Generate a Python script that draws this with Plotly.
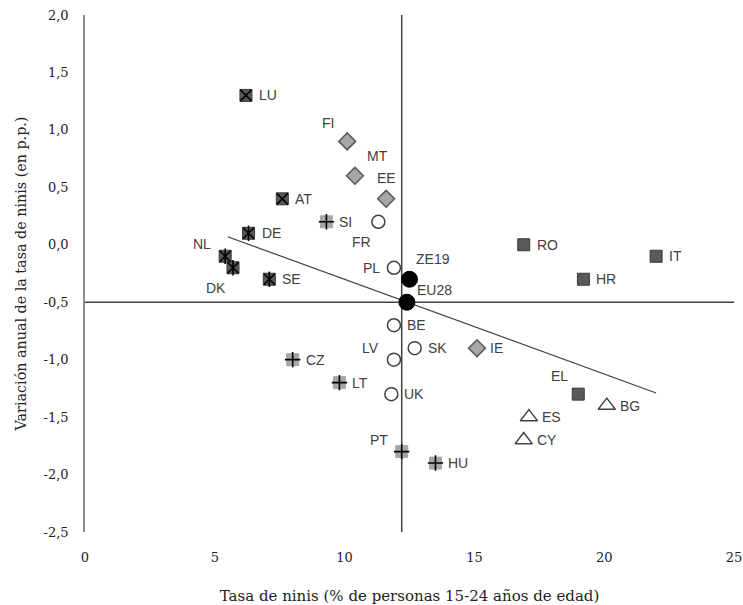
import plotly.graph_objects as go

# ---- data ----
countries = ["LU", "FI", "MT", "EE", "AT", "SI", "FR", "DE", "NL", "DK", "SE", "PL",
             "ZE19", "EU28", "RO", "IT", "HR", "BE", "SK", "IE", "LV", "UK", "CZ", "LT",
             "EL", "BG", "ES", "CY", "PT", "HU"]
neet_rate = [6.2, 10.1, 10.4, 11.6, 7.6, 9.3, 11.3, 6.3, 5.4, 5.7, 7.1, 11.9,
             12.5, 12.4, 16.9, 22.0, 19.2, 11.9, 12.7, 15.1, 11.9, 11.8, 8.0, 9.8,
             19.0, 20.1, 17.1, 16.9, 12.2, 13.5]
annual_change = [1.3, 0.9, 0.6, 0.4, 0.4, 0.2, 0.2, 0.1, -0.1, -0.2, -0.3, -0.2,
                 -0.3, -0.5, 0.0, -0.1, -0.3, -0.7, -0.9, -0.9, -1.0, -1.3, -1.0, -1.2,
                 -1.3, -1.4, -1.5, -1.7, -1.8, -1.9]
group = ["sqx", "dia", "dia", "dia", "sqx", "plus", "circ", "ast", "ast", "ast", "ast", "circ",
         "agg", "agg", "sq", "sq", "sq", "circ", "circ", "dia", "circ", "circ", "plus", "plus",
         "sq", "tri", "tri", "tri", "plus", "plus"]
label_pos = ["r", "tl", "tr", "t", "r", "r", "bl", "r", "ul", "bl", "r", "l",
             "tr", "ur", "r", "r", "r", "r", "r", "r", "ul", "r", "r", "r",
             "tl", "r", "r", "r", "ul", "r"]

cross_x = 12.2
cross_y = -0.5
trend_x = [5.5, 22.0]
trend_y = [0.07, -1.29]

x_ticks = [0, 5, 10, 15, 20, 25]
y_ticks = [2.0, 1.5, 1.0, 0.5, 0.0, -0.5, -1.0, -1.5, -2.0, -2.5]

# ---- styles ----
styles = {
    "sqx":  dict(symbol="square", size=12, color="#595959", line=dict(color="#3a3a3a", width=1)),
    "ast":  dict(symbol="square", size=12, color="#595959", line=dict(color="#3a3a3a", width=1)),
    "sq":   dict(symbol="square", size=12, color="#595959", line=dict(color="#3a3a3a", width=1)),
    "plus": dict(symbol="square", size=12, color="#a6a6a6", line=dict(color="#a6a6a6", width=1)),
    "dia":  dict(symbol="diamond", size=13, color="#a6a6a6", line=dict(color="#595959", width=1.5)),
    "circ": dict(symbol="circle", size=13, color="white", line=dict(color="#404040", width=1.5)),
    "tri":  dict(symbol="triangle-up", size=15, color="white", line=dict(color="#404040", width=1.5)),
    "agg":  dict(symbol="circle", size=16, color="black", line=dict(color="black", width=1)),
}
overlays = {
    "sqx": ["x-thin"],
    "ast": ["x-thin", "line-ns"],
    "plus": ["cross-thin"],
}
# label placement: (xanchor, xshift, yshift)
label_shift = {
    "r":  ("left", 11, 0),
    "l":  ("right", -12, 0),
    "tl": ("center", -19, 18),
    "ul": ("center", -23, 12),
    "tr": ("center", 23, 20),
    "ur": ("center", 28, 12),
    "t":  ("center", 0, 21),
    "bl": ("center", -17, -20),
}

fig = go.Figure()

# reference cross lines
fig.add_trace(go.Scatter(x=[cross_x, cross_x], y=[-2.5, 2.0], mode="lines",
                         line=dict(color="#404040", width=1.5), hoverinfo="skip", showlegend=False))
fig.add_trace(go.Scatter(x=[0, 25], y=[cross_y, cross_y], mode="lines",
                         line=dict(color="#404040", width=1.5), hoverinfo="skip", showlegend=False))
# trend line
fig.add_trace(go.Scatter(x=trend_x, y=trend_y, mode="lines",
                         line=dict(color="#404040", width=1.2), hoverinfo="skip", showlegend=False))

for g, st in styles.items():
    idx = [i for i, gg in enumerate(group) if gg == g]
    xs = [neet_rate[i] for i in idx]
    ys = [annual_change[i] for i in idx]
    fig.add_trace(go.Scatter(
        x=xs, y=ys, mode="markers", text=[countries[i] for i in idx],
        marker=dict(symbol=st["symbol"], size=st["size"], color=st["color"], line=st["line"]),
        showlegend=False, cliponaxis=False))
    for sym in overlays.get(g, []):
        fig.add_trace(go.Scatter(
            x=xs, y=ys, mode="markers",
            marker=dict(symbol=sym, size=11, color="black",
                        line=dict(color="black", width=1.6)),
            hoverinfo="skip", showlegend=False, cliponaxis=False))

sans = "Liberation Sans, Arial, sans-serif"
for c, xv, yv, p in zip(countries, neet_rate, annual_change, label_pos):
    xa, xs_, ys_ = label_shift[p]
    fig.add_annotation(x=xv, y=yv, text=c, showarrow=False, xanchor=xa, yanchor="middle",
                       xshift=xs_, yshift=ys_,
                       font=dict(family=sans, size=14, color="#404040"))

def fmt(v):
    return ("%.1f" % v).replace(".", ",")

serif = "DejaVu Serif, Liberation Serif, serif"
fig.update_layout(
    width=743, height=605,
    margin=dict(l=85, r=9, t=15, b=73, autoexpand=False),
    paper_bgcolor="white", plot_bgcolor="white",
    font=dict(family=serif, size=13, color="#222222"),
    xaxis=dict(range=[0, 25], tickvals=x_ticks, ticktext=[str(v) for v in x_ticks],
               showgrid=False, zeroline=False, ticklabeloverflow="allow", automargin=False,
               showline=False, ticks="outside", ticklen=13, tickcolor="rgba(0,0,0,0)",
               tickfont=dict(family=serif, size=13, color="#222222"),
               title=dict(text="Tasa de ninis (% de personas 15-24 años de edad)",
                          font=dict(family=serif, size=15, color="#222222"), standoff=30)),
    yaxis=dict(range=[-2.5, 2.0], tickvals=y_ticks, ticktext=[fmt(v) for v in y_ticks],
               showgrid=False, automargin=False,
               zeroline=False, showline=True, linecolor="#8c8c8c", linewidth=1.5,
               ticks="outside", ticklen=12, tickcolor="rgba(0,0,0,0)",
               tickfont=dict(family=serif, size=13, color="#222222"),
               title=dict(text="Variación anual de la tasa de ninis (en p.p.)",
                          font=dict(family=serif, size=14.3, color="#222222"), standoff=14)),
)

fig.write_html("out.html")
